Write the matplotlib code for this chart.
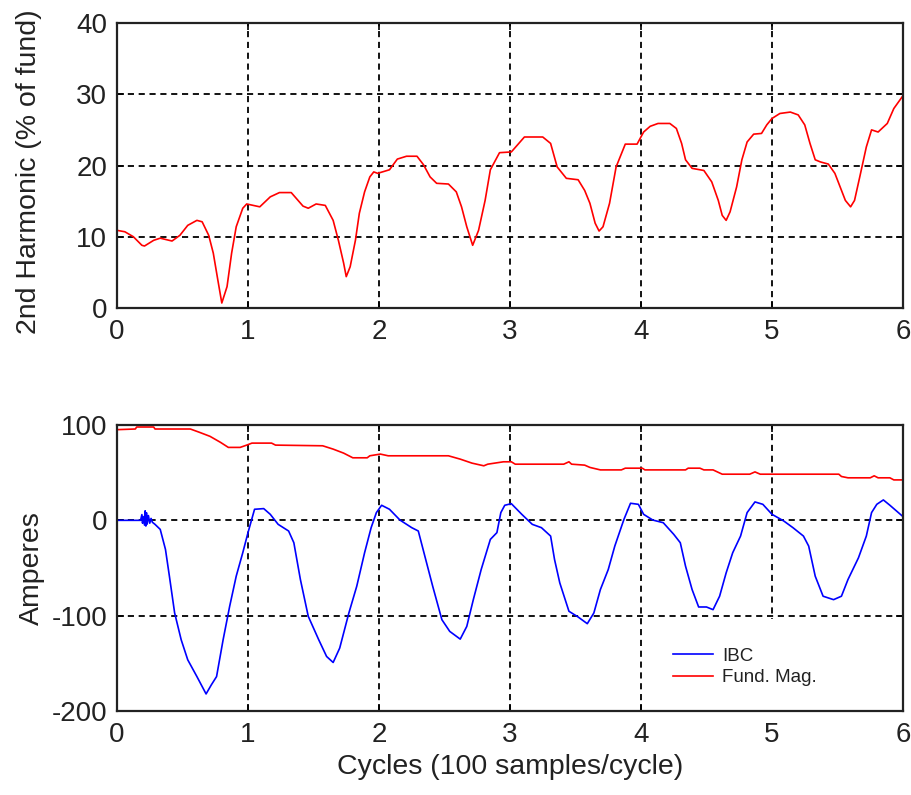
import matplotlib
matplotlib.use("Agg")
import matplotlib.pyplot as plt
from matplotlib.patches import Rectangle

plt.rcParams['font.family'] = ['Liberation Sans', 'DejaVu Sans']
plt.rcParams['axes.unicode_minus'] = False

# Second harmonic content, % of fundamental, vs. cycle
harm_cycles = [0.00, 0.06, 0.125, 0.19, 0.21, 0.28, 0.33, 0.42, 0.48, 0.54, 0.61, 0.65,
               0.70, 0.735, 0.77, 0.80, 0.84, 0.875, 0.91, 0.96, 0.99, 1.09, 1.17, 1.24,
               1.33, 1.42, 1.46, 1.52, 1.59, 1.65, 1.69, 1.73, 1.75, 1.78, 1.82, 1.85,
               1.89, 1.93, 1.96, 1.99, 2.08, 2.14, 2.21, 2.29, 2.34, 2.39, 2.44, 2.53,
               2.59, 2.63, 2.67, 2.715, 2.76, 2.81, 2.85, 2.92, 3.01, 3.11, 3.25, 3.31,
               3.36, 3.43, 3.52, 3.57, 3.61, 3.65, 3.68, 3.71, 3.76, 3.81, 3.88, 3.97,
               4.02, 4.07, 4.13, 4.22, 4.27, 4.31, 4.34, 4.39, 4.48, 4.54, 4.59, 4.62,
               4.65, 4.68, 4.73, 4.77, 4.81, 4.86, 4.92, 4.96, 5.00, 5.06, 5.14, 5.20,
               5.25, 5.29, 5.33, 5.37, 5.43, 5.48, 5.52, 5.56, 5.60, 5.63, 5.67, 5.72,
               5.76, 5.81, 5.88, 5.93, 6.00]
harm_pct = [10.9, 10.7, 10.0, 8.8, 8.7, 9.5, 9.8, 9.4, 10.2, 11.6, 12.3, 12.1,
            10.2, 7.7, 3.9, 0.7, 3.0, 7.7, 11.4, 14.0, 14.6, 14.2, 15.6, 16.2,
            16.2, 14.3, 14.0, 14.6, 14.4, 12.3, 9.5, 6.3, 4.4, 5.8, 9.5, 13.3,
            16.3, 18.4, 19.1, 18.9, 19.4, 20.9, 21.3, 21.3, 20.1, 18.4, 17.5, 17.4,
            16.3, 14.2, 11.4, 8.8, 10.9, 15.1, 19.4, 21.8, 21.9, 24.0, 24.0, 23.1,
            19.8, 18.2, 18.0, 16.5, 14.7, 11.9, 10.8, 11.4, 14.7, 19.8, 23.0, 23.0,
            24.7, 25.5, 25.9, 25.9, 25.2, 23.1, 20.8, 19.6, 19.3, 17.7, 15.1, 13.0,
            12.3, 13.5, 17.0, 20.8, 23.3, 24.4, 24.5, 25.7, 26.6, 27.3, 27.5, 27.1,
            25.7, 23.1, 20.8, 20.5, 20.2, 18.9, 17.0, 15.1, 14.2, 15.1, 18.4, 22.6,
            25.0, 24.7, 25.9, 28.0, 29.8]

# Fundamental magnitude (A)
fund_cycles = [0.00, 0.14, 0.15, 0.28, 0.29, 0.56, 0.63, 0.71, 0.79, 0.85, 0.94, 0.99,
               1.03, 1.18, 1.21, 1.57, 1.65, 1.73, 1.80, 1.91, 1.93, 2.01, 2.07, 2.53,
               2.62, 2.71, 2.80, 2.83, 2.95, 3.01, 3.04, 3.41, 3.45, 3.47, 3.57, 3.61,
               3.69, 3.85, 3.88, 4.01, 4.03, 4.34, 4.36, 4.45, 4.48, 4.55, 4.62, 4.83,
               4.87, 4.91, 5.51, 5.53, 5.58, 5.75, 5.78, 5.81, 5.90, 5.93, 6.00]
fund_amps = [95.1, 95.8, 97.9, 97.9, 95.8, 95.8, 92.3, 88.1, 81.8, 76.5, 76.5, 78.9,
             81.0, 81.0, 78.9, 78.2, 74.7, 70.5, 65.6, 65.6, 67.7, 69.5, 67.7, 67.7,
             64.2, 60.0, 57.2, 58.9, 61.4, 61.4, 58.9, 58.9, 61.4, 58.9, 57.9, 55.5,
             52.9, 52.9, 54.7, 54.7, 52.9, 52.9, 54.7, 54.7, 52.9, 52.9, 48.4, 48.4,
             50.8, 48.4, 48.4, 46.0, 44.6, 44.6, 46.7, 44.6, 44.6, 42.4, 42.4]

# Phase current IBC (A)
ibc_cycles = [0.00, 0.18, 0.19, 0.195, 0.20, 0.21, 0.215, 0.22, 0.225, 0.23, 0.24, 0.25,
              0.26, 0.27, 0.29, 0.33, 0.37, 0.40, 0.44, 0.49, 0.54, 0.61, 0.68, 0.72,
              0.76, 0.81, 0.86, 0.91, 0.96, 1.00, 1.05, 1.12, 1.17, 1.23, 1.31, 1.35,
              1.40, 1.46, 1.54, 1.60, 1.65, 1.70, 1.77, 1.83, 1.89, 1.94, 1.98, 2.02,
              2.08, 2.16, 2.25, 2.30, 2.35, 2.41, 2.48, 2.54, 2.62, 2.67, 2.72, 2.78,
              2.85, 2.90, 2.93, 2.96, 3.01, 3.09, 3.17, 3.24, 3.31, 3.34, 3.38, 3.45,
              3.52, 3.59, 3.64, 3.69, 3.75, 3.80, 3.87, 3.92, 3.98, 4.02, 4.09, 4.17,
              4.25, 4.30, 4.34, 4.39, 4.44, 4.50, 4.55, 4.60, 4.65, 4.70, 4.76, 4.81,
              4.87, 4.93, 5.00, 5.09, 5.16, 5.24, 5.28, 5.33, 5.39, 5.47, 5.53, 5.58,
              5.66, 5.72, 5.76, 5.80, 5.85, 5.90, 6.00]
ibc_amps = [0.0, 0.0, 6.0, -3.0, 4.0, -5.0, 10.0, -6.0, 8.0, -4.0, 5.0, -3.0,
            2.0, -2.0, -4.2, -9.5, -30.5, -58.6, -97.2, -125.3, -146.3, -163.9, -182.1, -172.6,
            -163.9, -125.3, -90.2, -58.6, -34.0, -12.9, 11.6, 12.3, 6.3, -4.2, -11.2, -23.5,
            -62.1, -100.7, -125.3, -142.8, -149.1, -134.0, -97.2, -69.2, -34.0, -7.7, 8.1, 15.8,
            11.6, 0.3, -7.7, -11.2, -37.6, -69.2, -104.2, -116.5, -124.6, -111.3, -83.2, -51.6,
            -20.0, -12.9, 8.1, 15.8, 17.5, 6.3, -4.2, -7.7, -16.5, -41.1, -65.6, -95.4,
            -101.4, -108.4, -97.2, -72.6, -51.6, -27.0, 1.1, 17.9, 16.8, 6.3, 0.3, -2.5,
            -14.7, -23.5, -48.1, -72.6, -90.9, -90.9, -93.7, -79.6, -55.1, -34.0, -16.5, 8.1,
            19.3, 16.8, 6.3, -0.7, -7.7, -16.5, -27.0, -58.6, -79.6, -83.2, -79.6, -62.1,
            -39.3, -16.5, 8.1, 16.8, 21.4, 15.8, 3.9]

x_ticks = [0, 1, 2, 3, 4, 5, 6]
harm_ticks = [0, 10, 20, 30, 40]
amp_ticks = [-200, -100, 0, 100]

W, H = 911, 795
fig = plt.figure(figsize=(W / 100, H / 100), dpi=100)
fig.patch.set_facecolor('white')

left = 117 / W
width = 786 / W
ax1 = fig.add_axes([left, (H - 308) / H, width, 285 / H])
ax2 = fig.add_axes([left, (H - 711) / H, width, 286 / H])

tick_fs = 20
label_fs = 20.5
text_col = '#222222'


def style(ax):
    ax.grid(True, color='black', linestyle=(0, (3.4, 2.6)), linewidth=1.3)
    ax.tick_params(direction='in', length=5, width=1.2, labelsize=tick_fs,
                   top=True, right=True, colors='black', labelcolor=text_col)
    ax.tick_params(axis='x', pad=8)
    ax.tick_params(axis='y', pad=7)
    for s in ax.spines.values():
        s.set_linewidth(1.6)
        s.set_color(text_col)
    ax.set_xlim(0, 6)
    ax.set_xticks(x_ticks)


ax1.plot(harm_cycles, harm_pct, color='#ff0000', linewidth=1.2, zorder=2)
style(ax1)
ax1.set_ylim(0, 40)
ax1.set_yticks(harm_ticks)
ax1.set_ylabel('2nd Harmonic (% of fund)', fontsize=label_fs, color=text_col)
ax1.yaxis.set_label_coords(-0.095, 0.477)

ax2.plot(ibc_cycles, ibc_amps, color='#0000ff', linewidth=1.2, label='IBC', zorder=2)
ax2.plot(fund_cycles, fund_amps, color='#ff0000', linewidth=1.2, label='Fund. Mag.', zorder=2)
style(ax2)
ax2.set_ylim(-200, 100)
ax2.set_yticks(amp_ticks)
ax2.set_ylabel('Amperes', fontsize=label_fs, color=text_col)
ax2.yaxis.set_label_coords(-0.092, 0.5)
ax2.set_xlabel('Cycles (100 samples/cycle)', fontsize=label_fs, color=text_col, labelpad=4)

# white backing behind the legend entries
ax2.add_patch(Rectangle((0.697, 0.004), 0.296, 0.318, transform=ax2.transAxes,
                        facecolor='white', edgecolor='none', zorder=1.8))
leg = ax2.legend(loc='upper left', bbox_to_anchor=(0.708, 0.222), frameon=False,
                 fontsize=13.5, handlelength=2.1, handletextpad=0.5,
                 labelspacing=0.25, borderpad=0.0, borderaxespad=0.0)
for t in leg.get_texts():
    t.set_color(text_col)

fig.savefig('out.png', dpi=100)
